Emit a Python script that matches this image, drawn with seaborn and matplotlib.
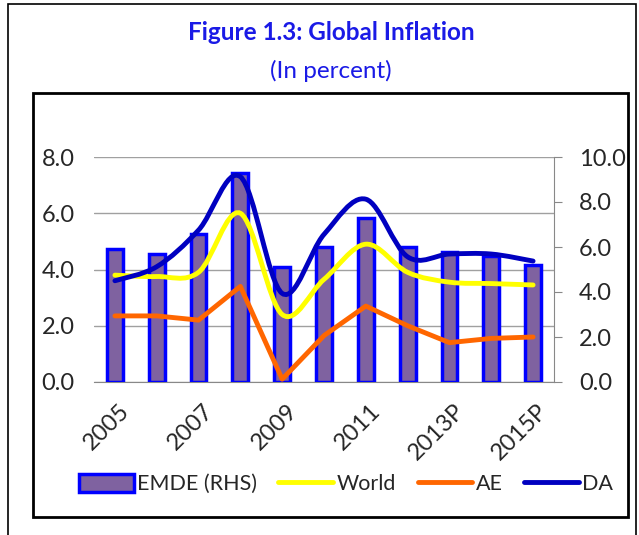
import matplotlib
matplotlib.use("Agg")
import matplotlib.pyplot as plt
import matplotlib.patches as mpatches
import matplotlib.transforms as mtransforms
from matplotlib.lines import Line2D
from matplotlib.path import Path
from matplotlib.ticker import MultipleLocator
import seaborn as sns
import numpy as np

years = ["2005", "2006", "2007", "2008", "2009", "2010", "2011",
         "2012", "2013P", "2014P", "2015P"]
emde = [5.9, 5.7, 6.6, 9.3, 5.1, 6.0, 7.3, 6.0, 5.8, 5.6, 5.2]   # RHS
world = [3.8, 3.75, 3.9, 6.0, 2.4, 3.65, 4.9, 3.9, 3.55, 3.5, 3.45]
ae = [2.35, 2.35, 2.2, 3.4, 0.1, 1.65, 2.7, 2.0, 1.4, 1.55, 1.6]
da = [3.6, 4.1, 5.4, 7.3, 3.15, 5.25, 6.5, 4.45, 4.55, 4.55, 4.3]

BAR_FACE = "#7f62a0"
BAR_EDGE = "#0000ff"
C_WORLD = "#ffff00"
C_AE = "#ff6600"
C_DA = "#0000c0"
TXT = "#262626"
TITLE_BLUE = "#1a1ae6"


def smooth_path(xs, ys):
    # excel-style smoothed line: bezier through every point
    pts = np.column_stack([xs, ys]).astype(float)
    n = len(pts)
    verts = [pts[0]]
    codes = [Path.MOVETO]
    for i in range(n - 1):
        p0 = pts[max(i - 1, 0)]
        p1 = pts[i]
        p2 = pts[i + 1]
        p3 = pts[min(i + 2, n - 1)]
        verts += [p1 + (p2 - p0) / 6, p2 - (p3 - p1) / 6, p2]
        codes += [Path.CURVE4] * 3
    return Path(verts, codes)


sns.set_style("white")
plt.rcParams["font.family"] = ["Lato", "DejaVu Sans"]

fig = plt.figure(figsize=(6.39, 5.35), dpi=100)

# frames around the figure and the chart
fig.add_artist(mpatches.Rectangle((8 / 639, -0.02), 628 / 639, 1 - 4 / 535 + 0.02,
                                  transform=fig.transFigure, fill=False,
                                  edgecolor="black", lw=1.2))
fig.add_artist(mpatches.Rectangle((33 / 639, 1 - 517 / 535), 595 / 639, 424 / 535,
                                  transform=fig.transFigure, fill=False,
                                  edgecolor="black", lw=2))

fig.text(0.518, 1 - 32 / 535, "Figure 1.3: Global Inflation", ha="center",
         va="center", fontsize=17.5, fontweight="bold", color=TITLE_BLUE)
fig.text(0.518, 1 - 71 / 535, "(In percent)", ha="center", va="center",
         fontsize=17.5, color=TITLE_BLUE)

ax = fig.add_axes([94 / 639, 1 - 382 / 535, 460 / 639, 225 / 535])
x = np.arange(len(years))

sns.barplot(x=years, y=emde, ax=ax, color=BAR_FACE, width=0.38,
            edgecolor=BAR_EDGE, linewidth=2.5, saturation=1, zorder=3)

ax2 = ax.twinx()

# bar axis: right-hand scale
ax.yaxis.tick_right()
ax.set_ylim(0, 10)
ax.set_xlim(-0.5, len(years) - 0.5)
ax.set_yticks(np.arange(0, 10.1, 2))
ax.set_yticklabels([f"{v:.1f}" for v in np.arange(0, 10.1, 2)])
ax.yaxis.set_minor_locator(MultipleLocator(2.5))
ax.yaxis.remove_overlapping_locs = False
ax.grid(which="minor", axis="y", color="#a0a0a0", lw=1, zorder=0)
ax.grid(which="major", visible=False)
ax.tick_params(axis="y", which="minor", length=0, right=False, left=False)
ax.tick_params(axis="y", which="major", length=6, color="#888888",
               direction="out", pad=12, labelsize=17, labelcolor=TXT,
               right=True, left=False, labelright=True, labelleft=False)
for s in ["top", "left"]:
    ax.spines[s].set_visible(False)
ax.spines["right"].set_color("#888888")
ax.spines["bottom"].set_color("#888888")
ax.set_axisbelow(True)

ax.set_xticks(x[::2])
ax.set_xticklabels(years[::2], rotation=45, ha="right",
                   rotation_mode="anchor", fontsize=17, color=TXT)
ax.tick_params(axis="x", length=0, pad=13)
ax.set_xlabel("")
shift = mtransforms.ScaledTranslation(4 / 100, 0, fig.dpi_scale_trans)
for lab in ax.get_xticklabels():
    lab.set_transform(lab.get_transform() + shift)

# line axis: left-hand scale
ax2.yaxis.tick_left()
ax2.set_ylim(0, 8)
ax2.set_yticks(np.arange(0, 8.1, 2))
ax2.set_yticklabels([f"{v:.1f}" for v in np.arange(0, 8.1, 2)])
ax2.tick_params(axis="y", length=0, pad=14, labelsize=17, labelcolor=TXT)
ax2.grid(False)
for s in ax2.spines.values():
    s.set_visible(False)

ax2.add_patch(mpatches.PathPatch(smooth_path(x, world), fill=False,
                                 edgecolor=C_WORLD, lw=3.5, capstyle="round"))
sns.lineplot(x=x, y=ae, ax=ax2, color=C_AE, lw=3.5, sort=False)
ax2.add_patch(mpatches.PathPatch(smooth_path(x, da), fill=False,
                                 edgecolor=C_DA, lw=3.5, capstyle="round"))

handles = [
    mpatches.Patch(facecolor=BAR_FACE, edgecolor=BAR_EDGE, lw=2.5),
    Line2D([], [], color=C_WORLD, lw=3.5),
    Line2D([], [], color=C_AE, lw=3.5),
    Line2D([], [], color=C_DA, lw=3.5),
]
fig.legend(handles, ["EMDE (RHS)", "World", "AE", "DA"], loc="center",
           bbox_to_anchor=(346 / 639, 1 - 484 / 535), ncol=4, frameon=False,
           fontsize=15.5, handlelength=2.55, handleheight=0.9,
           handletextpad=0.15, columnspacing=1.0, labelcolor=TXT)

fig.savefig("out.png", dpi=100)
